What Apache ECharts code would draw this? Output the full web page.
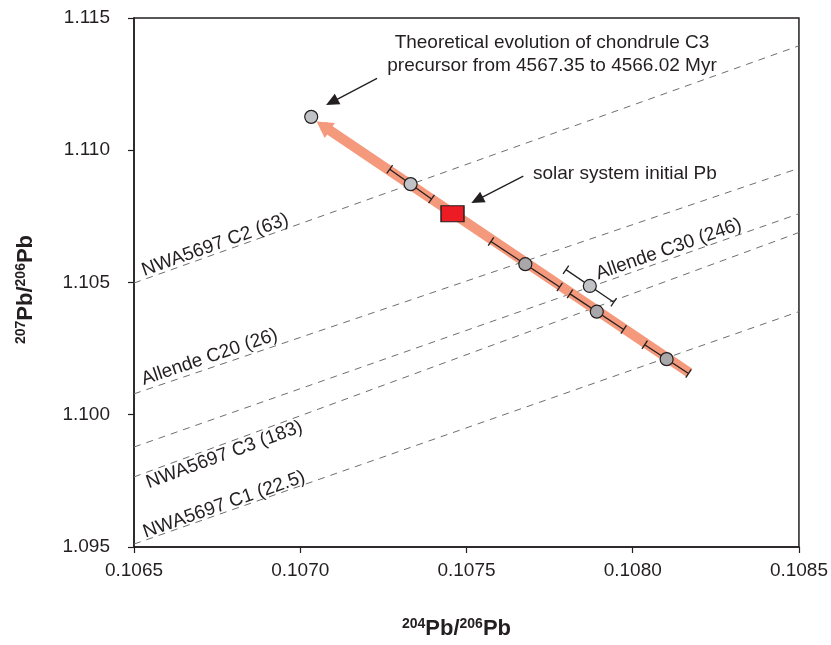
<!DOCTYPE html>
<html>
<head>
<meta charset="utf-8">
<script src="https://cdn.jsdelivr.net/npm/echarts@6/dist/echarts.min.js"></script>
<style>
    html, body { margin: 0; padding: 0; background: #fff; }
    #chart { width: 831px; height: 645px; }
</style>
</head>
<body>
<div id="chart"></div>
<script>
// isochron reference lines, read where they meet the left and right frame
const isoNames = ['NWA5697 C2 (63)', 'Allende C20 (26)', 'Allende C30 (246)', 'NWA5697 C3 (183)', 'NWA5697 C1 (22.5)']
const isoX = [0.1065, 0.1085]
const isoLeftY = [1.10498, 1.10079, 1.09878, 1.09765, 1.09511]
const isoRightY = [1.11395, 1.10932, 1.10760, 1.10689, 1.10390]

// theoretical evolution of chondrule C3 precursor (points + correlated errors)
const evoX = [0.107033, 0.107332, 0.107677, 0.107892, 0.108102]
const evoY = [1.111262, 1.108720, 1.105692, 1.103897, 1.102103]
const evoErrX = [0, 0.0000629, 0.0001033, 0.0000808, 0.0000659]
const evoErrY = [0, 0.000561, 0.000860, 0.000673, 0.000542]

// Allende C30 measurement
const c30X = [0.107871]
const c30Y = [1.104869]
const c30ErrX = [0.0000719]
const c30ErrY = [0.000617]

// solar system initial Pb
const solarX = [0.107458]
const solarY = [1.107598]

// evolution arrow (tail -> head) and the two callout arrows
const evoArrow = [[0.108171, 1.10158], [0.107069, 1.110918]]
const calloutTheory = [[0.107231, 1.11272], [0.107095, 1.111822]]
const calloutSolar = [[0.107671, 1.10902], [0.107532, 1.108121]]

// label placement for the dashed lines (style only)
const isoLabelPos = ['insideStartTop', 'insideStartTop', 'insideEndTop', 'insideStartBottom', 'insideStartTop']
const isoLabelDist = [[12, -1], [12, 1], [58, 0], [10, 1], [13, -2]]
const evoColors = ['#c1c2c6', '#c1c2c6', '#a9a7a9', '#a9a7a9', '#a9a7a9']

const FONT = '"Liberation Sans", Arial, sans-serif'
const INK = '#231f20'

const chart = echarts.init(document.getElementById('chart'))

function renderErr(params, api) {
    const x = api.value(0), y = api.value(1), ex = api.value(2), ey = api.value(3)
    if (!ex) {
        return
    }
    const a = api.coord([x - ex, y + ey])
    const b = api.coord([x + ex, y - ey])
    const dx = b[0] - a[0], dy = b[1] - a[1]
    const len = Math.hypot(dx, dy)
    const nx = -dy / len * 5, ny = dx / len * 5
    const style = {stroke: INK, lineWidth: 1.3}
    return {
        type: 'group',
        children: [
            {type: 'line', shape: {x1: a[0], y1: a[1], x2: b[0], y2: b[1]}, style},
            {type: 'line', shape: {x1: a[0] - nx, y1: a[1] - ny, x2: a[0] + nx, y2: a[1] + ny}, style},
            {type: 'line', shape: {x1: b[0] - nx, y1: b[1] - ny, x2: b[0] + nx, y2: b[1] + ny}, style}
        ]
    }
}

const errData = evoX.map((x, i) => [x, evoY[i], evoErrX[i], evoErrY[i]])
    .concat(c30X.map((x, i) => [x, c30Y[i], c30ErrX[i], c30ErrY[i]]))

const titleRich = {
    b: {fontSize: 22, fontWeight: 'bold', fontFamily: FONT, color: INK, lineHeight: 24},
    sup: {fontSize: 14, fontWeight: 'bold', fontFamily: FONT, color: INK, verticalAlign: 'top', lineHeight: 15}
}

chart.setOption({
    animation: false,
    grid: {left: 134, right: 29, top: 18, bottom: 92, show: true, borderColor: INK, borderWidth: 1.5},
    xAxis: {
        type: 'value',
        min: 0.1065,
        max: 0.1085,
        interval: 0.0005,
        name: '{sup|204}{b|Pb/}{sup|206}{b|Pb}',
        nameLocation: 'middle',
        nameGap: 70,
        nameTextStyle: {rich: titleRich, padding: [0, 20, 0, 0]},
        axisLine: {lineStyle: {color: INK, width: 1.5}},
        axisTick: {length: 6, lineStyle: {color: INK, width: 1.2}},
        axisLabel: {
            color: INK, fontSize: 19, fontFamily: FONT, margin: 14,
            formatter: v => v.toFixed(4)
        },
        splitLine: {show: false}
    },
    yAxis: {
        type: 'value',
        min: 1.095,
        max: 1.115,
        interval: 0.005,
        name: '{sup|207}{b|Pb/}{sup|206}{b|Pb}',
        nameLocation: 'middle',
        nameGap: 96,
        nameTextStyle: {rich: titleRich, padding: [0, 14, 0, 0]},
        axisLine: {lineStyle: {color: INK, width: 1.5}},
        axisTick: {length: 6, lineStyle: {color: INK, width: 1.2}},
        axisLabel: {
            color: INK, fontSize: 19, fontFamily: FONT, margin: 24,
            formatter: v => v.toFixed(3)
        },
        splitLine: {show: false}
    },
    graphic: [
        {
            type: 'text',
            style: {
                text: 'Theoretical evolution of chondrule C3\nprecursor from 4567.35 to 4566.02 Myr',
                x: 552, y: 54, align: 'center', verticalAlign: 'middle',
                font: '19px ' + FONT, lineHeight: 23, fill: INK
            }
        },
        {
            type: 'text',
            style: {
                text: 'solar system initial Pb',
                x: 533, y: 174, align: 'left', verticalAlign: 'middle',
                font: '19px ' + FONT, fill: INK
            }
        }
    ],
    series: [
        {
            // dashed reference lines with their labels
            type: 'scatter',
            data: [],
            markLine: {
                silent: true,
                z: 1,
                symbol: ['none', 'none'],
                lineStyle: {type: [7, 6], color: '#6d6e71', width: 1},
                data: isoNames.map((name, i) => [
                    {
                        coord: [isoX[0], isoLeftY[i]],
                        label: {
                            show: true,
                            formatter: name,
                            position: isoLabelPos[i],
                            distance: isoLabelDist[i],
                            color: INK,
                            fontSize: 19,
                            fontFamily: FONT
                        }
                    },
                    {coord: [isoX[1], isoRightY[i]]}
                ])
            }
        },
        {
            // thick evolution arrow
            type: 'scatter',
            data: [],
            markLine: {
                silent: true,
                z: 2,
                symbol: ['none', 'triangle'],
                symbolSize: [18, 16],
                label: {show: false},
                lineStyle: {type: 'solid', color: '#f4997c', width: 10, opacity: 1},
                itemStyle: {color: '#f4997c'},
                data: [[{coord: evoArrow[0]}, {coord: evoArrow[1]}]]
            }
        },
        {
            // callout arrows
            type: 'scatter',
            data: [],
            markLine: {
                silent: true,
                z: 6,
                symbol: ['none', 'triangle'],
                symbolSize: [12, 13],
                label: {show: false},
                lineStyle: {type: 'solid', color: INK, width: 1.3, opacity: 1},
                itemStyle: {color: INK},
                data: [
                    [{coord: calloutTheory[0]}, {coord: calloutTheory[1]}],
                    [{coord: calloutSolar[0]}, {coord: calloutSolar[1]}]
                ]
            }
        },
        {
            type: 'custom',
            renderItem: renderErr,
            data: errData,
            z: 3
        },
        {
            type: 'scatter',
            symbol: 'circle',
            symbolSize: 13,
            z: 4,
            itemStyle: {borderColor: INK, borderWidth: 1.2, opacity: 1},
            data: evoX.map((x, i) => ({value: [x, evoY[i]], itemStyle: {color: evoColors[i]}}))
                .concat(c30X.map((x, i) => ({value: [x, c30Y[i]], itemStyle: {color: '#c1c2c6'}})))
        },
        {
            type: 'scatter',
            symbol: 'rect',
            symbolSize: [23, 16],
            z: 5,
            itemStyle: {color: '#ed1c24', borderColor: INK, borderWidth: 1.2, opacity: 1},
            data: solarX.map((x, i) => [x, solarY[i]])
        }
    ]
})
</script>
</body>
</html>
